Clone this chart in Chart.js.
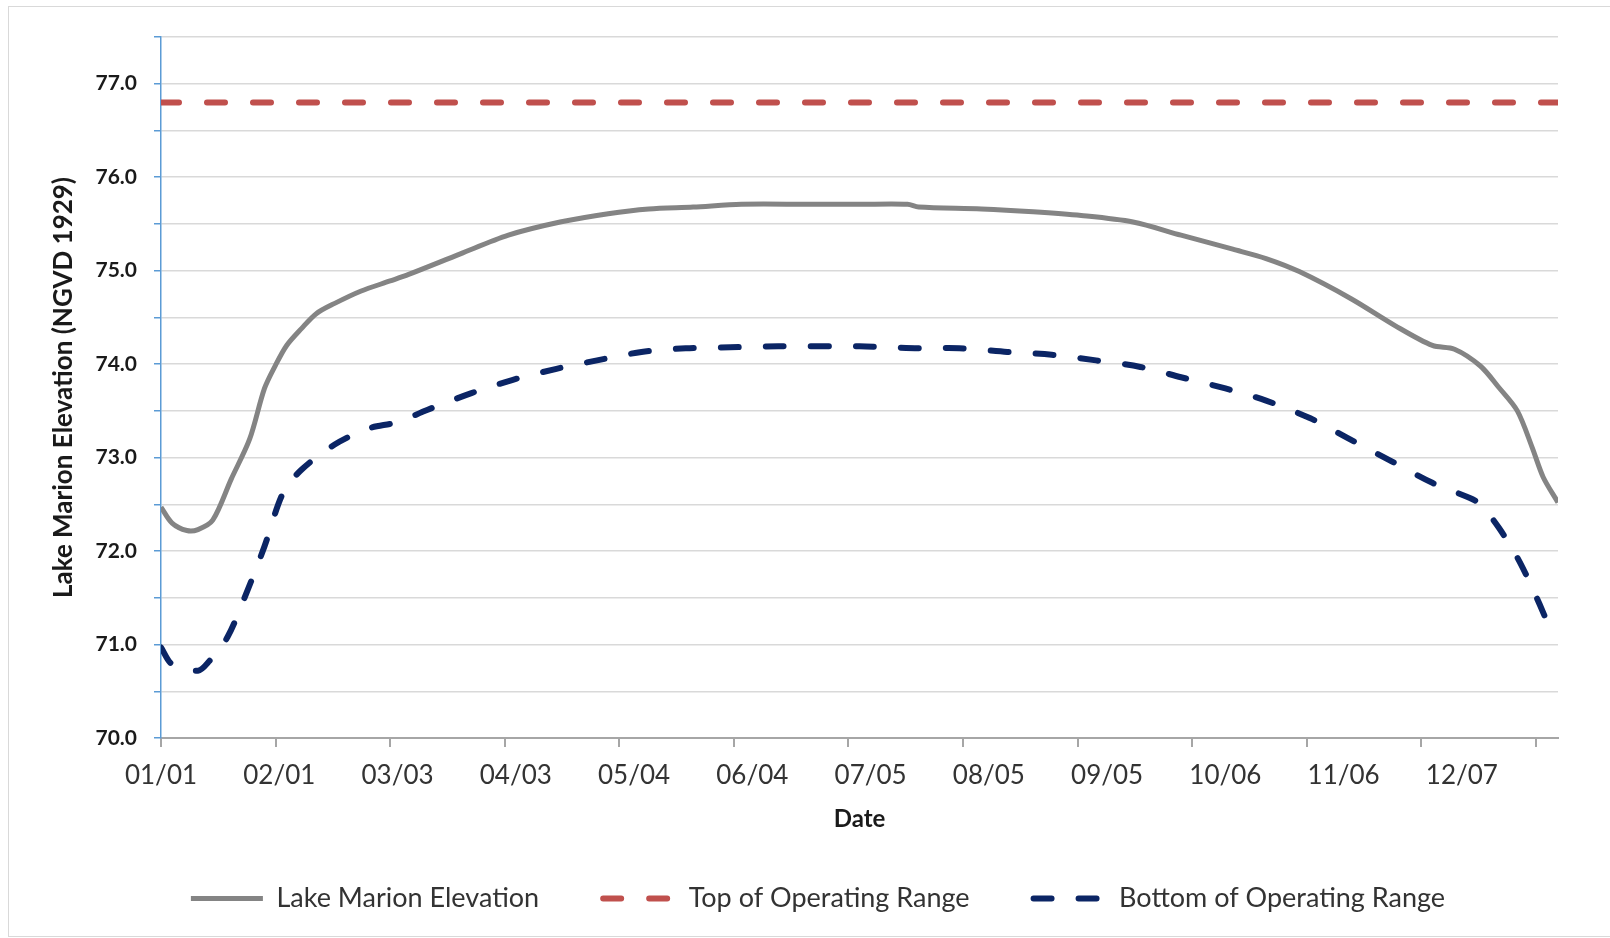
<!DOCTYPE html>
<html>
<head>
<meta charset="utf-8">
<script src="https://cdn.jsdelivr.net/npm/chart.js@4.4.1/dist/chart.umd.min.js"></script>
<style>
  html, body { margin: 0; padding: 0; background: #fff; }
  #frame { position: absolute; left: 8px; top: 6px; width: 1610px; height: 931px;
           border: 1px solid #d9d9d9; border-right: none; box-sizing: border-box; }
  #wrap { position: absolute; left: 0; top: 0; width: 1610px; height: 938px; }
</style>
</head>
<body>
<div id="frame"></div>
<div id="wrap"><canvas id="chart"></canvas></div>
<script>
// dias desde el 01/01 y nivel del lago (pies, NGVD 1929)
const lakeDays = [0, 3, 7, 10, 14, 19, 24, 28, 31, 34, 38, 42, 47, 54, 62, 67, 81, 94, 108, 121, 132, 144, 157, 175, 189, 202, 205, 222, 236, 249, 263, 276, 290, 299, 308, 322, 334, 344, 350, 357, 362, 367, 371, 374, 378];
const lakeElev = [72.47, 72.30, 72.22, 72.23, 72.33, 72.77, 73.20, 73.74, 73.99, 74.20, 74.38, 74.54, 74.65, 74.78, 74.89, 74.96, 75.18, 75.38, 75.52, 75.61, 75.66, 75.68, 75.71, 75.71, 75.71, 75.71, 75.68, 75.66, 75.63, 75.59, 75.52, 75.38, 75.23, 75.13, 74.99, 74.70, 74.41, 74.20, 74.16, 73.98, 73.75, 73.50, 73.11, 72.79, 72.52];

// limite superior del rango de operacion (constante)
const topDays = [0, 378];
const topElev = [76.8, 76.8];

// limite inferior del rango de operacion
const bottomDays = [0, 3, 10, 13, 18, 23, 28, 33, 38, 47, 56, 64, 72, 84, 95, 107, 118, 130, 142, 154, 167, 189, 205, 216, 229, 241, 253, 265, 276, 288, 299, 311, 321, 333, 344, 354, 357, 362, 367, 371, 375];
const bottomElev = [70.97, 70.79, 70.72, 70.82, 71.08, 71.54, 72.05, 72.62, 72.87, 73.14, 73.31, 73.38, 73.51, 73.69, 73.83, 73.95, 74.04, 74.13, 74.17, 74.18, 74.19, 74.19, 74.17, 74.17, 74.13, 74.10, 74.04, 73.97, 73.86, 73.74, 73.61, 73.42, 73.21, 72.96, 72.73, 72.57, 72.50, 72.25, 71.93, 71.61, 71.25];

// marcas del eje X (cada 31 dias) y etiquetas de fecha
const xTickDays = [0, 31, 62, 93, 124, 155, 186, 217, 248, 279, 310, 341, 372];
const labelDays = [0, 32, 64, 96, 128, 160, 192, 224, 256, 288, 320, 352];
const dateLabels = ['01/01', '02/01', '03/03', '04/03', '05/04', '06/04', '07/05', '08/05', '09/05', '10/06', '11/06', '12/07'];

const xMax = 378;

function toPoints(days, vals) {
  return days.map((d, i) => ({ x: d, y: vals[i] }));
}

// la leyenda con pointStyle no copia el guion de la linea: lo ponemos a mano
function legendLabels(chart) {
  const items = Chart.defaults.plugins.legend.labels.generateLabels(chart);
  items.forEach(it => {
    const ds = chart.data.datasets[it.datasetIndex];
    it.lineDash = ds.borderDash || [];
    it.lineWidth = ds.borderWidth;
    it.strokeStyle = ds.borderColor;
    it.lineCap = ds.borderCapStyle || 'butt';
  });
  return items;
}

const ctx = document.getElementById('chart').getContext('2d');
new Chart(ctx, {
  type: 'line',
  data: {
    datasets: [
      {
        label: 'Lake Marion Elevation',
        data: toPoints(lakeDays, lakeElev),
        borderColor: '#848484',
        borderWidth: 5,
        pointRadius: 0,
        pointStyle: 'line',
        borderJoinStyle: 'round',
        borderCapStyle: 'butt',
        tension: 0.3
      },
      {
        label: 'Top of Operating Range',
        data: toPoints(topDays, topElev),
        borderColor: '#c0504d',
        borderWidth: 6,
        borderDash: [18, 28],
        borderCapStyle: 'round',
        pointRadius: 0,
        pointStyle: 'line'
      },
      {
        label: 'Bottom of Operating Range',
        data: toPoints(bottomDays, bottomElev),
        borderColor: '#0b2565',
        borderWidth: 6,
        borderDash: [18, 27],
        borderCapStyle: 'round',
        borderJoinStyle: 'round',
        pointRadius: 0,
        pointStyle: 'line',
        tension: 0.3
      }
    ]
  },
  options: {
    responsive: true,
    maintainAspectRatio: false,
    animation: false,
    layout: { padding: { left: 78, right: 52, top: 37, bottom: 16 } },
    scales: {
      x: {
        type: 'linear',
        position: 'bottom',
        min: 0,
        max: xMax,
        weight: 0,
        afterBuildTicks: s => { s.ticks = xTickDays.map(v => ({ value: v })); },
        ticks: { display: false },
        grid: { drawOnChartArea: false, drawTicks: true, tickLength: 9, color: '#a6a6a6', lineWidth: 2 },
        border: { color: '#a6a6a6', width: 2 }
      },
      xl: {
        type: 'linear',
        position: 'bottom',
        min: 0,
        max: xMax,
        weight: 1,
        afterBuildTicks: s => { s.ticks = labelDays.map(v => ({ value: v })); },
        afterFit: s => { s.height = 74; },
        ticks: {
          autoSkip: false,
          maxRotation: 0,
          padding: 13,
          color: '#333333',
          font: { family: 'Lato', size: 26 },
          callback: (v, i) => dateLabels[i]
        },
        grid: { display: false, drawTicks: false },
        border: { display: false },
        title: {
          display: true,
          text: 'Date',
          color: '#1a1a1a',
          font: { family: 'Lato', size: 24, weight: 'bold' },
          padding: { top: 0, bottom: -13 }
        }
      },
      y: {
        min: 70,
        max: 77.5,
        afterFit: s => { s.width = 161 - 78; },
        ticks: {
          stepSize: 0.5,
          padding: 17,
          color: '#1a1a1a',
          font: { family: 'Lato', size: 21, weight: 'bold' },
          callback: v => Number.isInteger(v) ? v.toFixed(1) : ''
        },
        grid: { color: '#d9d9d9', lineWidth: 1.5, tickColor: '#5b9bd5', tickLength: 7 },
        border: { color: '#5b9bd5', width: 1.5 },
        title: {
          display: true,
          text: 'Lake Marion Elevation (NGVD 1929)',
          color: '#1a1a1a',
          font: { family: 'Lato', size: 26, weight: 'bold' },
          padding: { top: -29.6, bottom: 0 }
        }
      }
    },
    plugins: {
      legend: {
        position: 'bottom',
        labels: {
          usePointStyle: true,
          pointStyleWidth: 72,
          padding: 64,
          color: '#333333',
          font: { family: 'Lato', size: 27 },
          generateLabels: legendLabels
        }
      },
      tooltip: { enabled: false }
    }
  }
});
</script>
</body>
</html>
